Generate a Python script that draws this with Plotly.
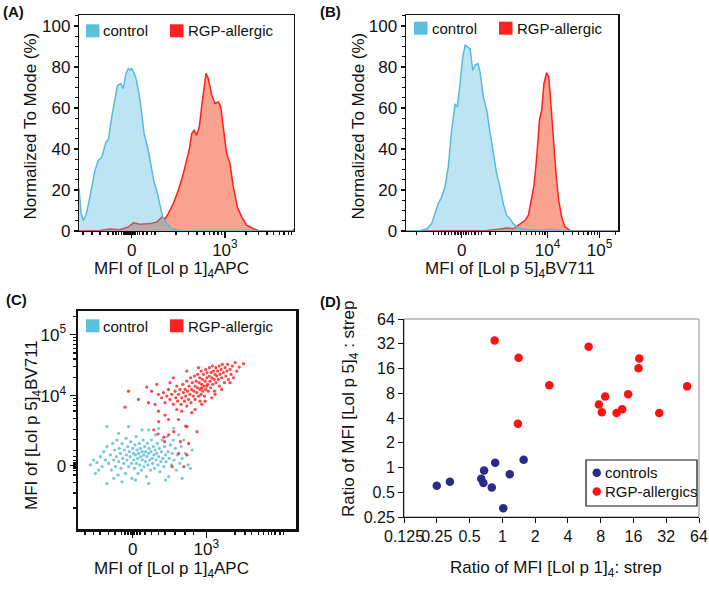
import plotly.graph_objects as go

W, H = 709, 607
FONT = "Liberation Sans, Arial, Helvetica, sans-serif"

# ---------------- Panel A: [Lol p 1]4-APC histograms (x = display channel 0-1024, y = % of mode)
a_ctrl_x = [0, 10, 21, 33, 52, 76, 92, 108, 129, 140, 156, 172, 183, 199, 211, 224, 235, 243, 251, 259,
            272, 291, 310, 330, 346, 357, 370, 383, 399, 418, 441, 473, 513, 1024]
a_ctrl_y = [20.7, 8.5, 5.2, 7.7, 16.6, 29.6, 34.5, 36, 43.5, 44.6, 55.7, 65.5, 71, 72, 69.5, 77, 79.3, 78.5, 79.3, 77.7,
            74.4, 63.8, 47.6, 39.4, 31.3, 24, 19.9, 13.4, 6.8, 3.6, 1.3, 0.3, 0, 0]
a_rgp_x = [0, 100, 148, 195, 235, 259, 291, 338, 370, 394, 410, 425, 449, 473, 497, 513, 526, 537, 548, 560,
           573, 584, 595, 605, 616, 632, 648, 664, 675, 691, 703, 719, 735, 754, 775, 799, 830, 854, 894, 1018, 1024]
a_rgp_y = [0, 0.3, 1, 0.6, 2, 4, 3.3, 3.6, 4.4, 6.8, 6, 8.5, 13.4, 19.9, 28, 34.5, 40.2, 47.6, 49.2, 46.7,
           50.8, 60.6, 70.4, 76.9, 74.4, 66.3, 62.2, 63, 60.6, 47.6, 37.8, 32.9, 21.5, 11.7, 6.8, 2.8, 1.1, 0.3, 0, 0, 1]

# ---------------- Panel B: [Lol p 5]4-BV711 histograms
b_ctrl_x = [0, 69, 101, 125, 141, 157, 173, 189, 205, 221, 238, 249, 262, 274, 286, 299, 310, 323, 335, 348,
            358, 374, 390, 406, 422, 438, 454, 470, 486, 502, 518, 534, 559, 647, 695, 727, 759, 1024]
b_ctrl_y = [0, 0.3, 1, 3.6, 8.5, 13.4, 16.6, 21.5, 31.3, 49, 62, 60.6, 72, 84.2, 90.7, 89.9, 89, 78.5, 81, 81.8,
            77.7, 65.5, 59, 48.4, 37.8, 28, 21.5, 13.4, 7.7, 6, 3.6, 2, 1, 0.3, 0.8, 0.6, 0, 0]
b_rgp_x = [0, 374, 390, 454, 486, 518, 550, 575, 591, 607, 618, 631, 644, 655, 666, 679, 689, 698, 711, 724,
           737, 751, 767, 791, 807, 1024]
b_rgp_y = [0, 0, 0.3, 1, 1.5, 1.1, 3.3, 5.2, 7.7, 16.6, 22.3, 36, 54, 59, 72, 77.2, 75.2, 63.8, 44.3, 28,
           15, 6.8, 2, 0.3, 0, 0]

# ---------------- Panel C: dot plot (display channels)
c_ctrl_x = [58, 74, 89, 105, 113, 121, 129, 136, 136, 144, 152, 157, 163, 168, 172, 176, 180, 183, 188, 191,
            194, 199, 202, 207, 210, 215, 218, 223, 226, 227, 230, 234, 238, 241, 245, 248, 251, 254, 257, 260,
            262, 265, 268, 270, 273, 274, 277, 281, 282, 285, 288, 290, 293, 295, 298, 301, 302, 306, 309, 310,
            313, 317, 318, 321, 324, 326, 329, 332, 334, 337, 340, 343, 345, 348, 351, 354, 356, 359, 362, 364,
            367, 370, 373, 376, 379, 382, 385, 389, 392, 395, 398, 403, 406, 411, 414, 418, 423, 426, 429, 434,
            439, 442, 447, 451, 457, 462, 467, 473, 478, 484, 489, 497, 504, 517, 528, 536, 238, 136, 332, 379,
            207, 270, 332, 411, 191, 97, 82, 168, 489, 301, 450]
c_ctrl_y = [302, 325, 313, 341, 294, 364, 325, 388, 215, 309, 349, 278, 403, 325, 372, 294, 341, 419, 255, 317,
            380, 356, 286, 403, 333, 309, 372, 262, 427, 349, 325, 388, 294, 364, 341, 411, 309, 239, 380, 356,
            325, 286, 396, 349, 435, 309, 372, 333, 262, 356, 403, 302, 380, 341, 278, 364, 325, 419, 349, 294,
            388, 317, 364, 247, 341, 403, 302, 356, 380, 325, 278, 364, 419, 333, 309, 388, 349, 286, 372, 443,
            325, 356, 403, 302, 341, 380, 270, 317, 364, 419, 333, 294, 388, 349, 317, 435, 364, 247, 333, 396,
            302, 356, 419, 325, 380, 278, 349, 443, 309, 388, 333, 419, 356, 302, 286, 372, 482, 482, 466, 474,
            223, 231, 215, 231, 450, 278, 262, 239, 239, 466, 474]
c_rgp_x = [393, 401, 409, 417, 425, 432, 440, 448, 456, 459, 464, 468, 472, 479, 484, 487, 492, 495, 500, 503,
           506, 511, 511, 515, 519, 522, 526, 529, 531, 534, 537, 542, 544, 547, 550, 550, 555, 558, 561, 562,
           566, 569, 572, 573, 578, 578, 581, 584, 586, 589, 592, 594, 597, 600, 600, 605, 606, 609, 612, 616,
           617, 620, 623, 625, 628, 631, 633, 636, 639, 641, 644, 647, 648, 652, 656, 659, 663, 664, 667, 672,
           675, 678, 683, 688, 691, 694, 699, 703, 706, 714, 719, 725, 730, 738, 746, 757, 777,
           237, 221, 284, 323, 346, 362, 370, 331, 378, 409, 425, 472, 506, 448, 714, 487, 550, 581, 675, 628,
           566, 511, 464, 378, 432, 534, 597, 644, 573, 581, 605,
           379, 356, 376, 403, 426, 450, 512, 559, 520, 481, 407, 512, 442, 497, 473]
c_rgp_y = [617, 641, 594, 625, 656, 609, 633, 586, 648, 617, 672, 601, 633, 656, 586, 617, 680, 641, 601, 656,
           625, 695, 578, 648, 609, 672, 633, 711, 594, 656, 688, 625, 648, 719, 672, 609, 695, 641, 664, 727,
           625, 688, 711, 656, 742, 633, 680, 703, 648, 727, 672, 625, 695, 750, 656, 711, 735, 680, 648, 719,
           758, 695, 664, 735, 711, 766, 680, 742, 703, 648, 727, 758, 688, 719, 742, 703, 766, 672, 727, 750,
           711, 774, 735, 688, 758, 719, 742, 774, 703, 750, 727, 766, 711, 782, 742, 761, 777,
           648, 573, 609, 667, 648, 586, 680, 594, 554, 536, 515, 515, 484, 711, 688, 554, 562, 586, 656, 617,
           758, 742, 562, 633, 688, 547, 601, 633, 601, 664, 672,
           505, 466, 447, 432, 443, 458, 482, 458, 403, 411, 411, 349, 294, 294, 356]

# ---------------- Panel D: per-donor ratios
d_ctrl_p1 = [0.25, 0.33, 0.64, 0.68, 0.67, 0.86, 0.80, 1.02, 1.17, 1.57]
d_ctrl_p5 = [0.60, 0.67, 0.73, 0.92, 0.65, 1.14, 0.57, 0.32, 0.83, 1.24]
d_rgp_p1 = [0.85, 1.41, 1.39, 2.7, 6.2, 7.7, 8.2, 8.8, 11.2, 12.6, 14.3, 17.8, 18.1, 27.6, 49.8]
d_rgp_p5 = [35, 21.6, 3.4, 10.0, 29.5, 5.85, 4.7, 7.3, 4.6, 5.1, 7.8, 16.1, 21.2, 4.6, 9.7]

# tick definitions
a_xticks, a_xlabels = [251, 695], ["0", "10<sup>3</sup>"]
b_xticks, b_xlabels = [270, 683, 934], ["0", "10<sup>4</sup>", "10<sup>5</sup>"]
c_xticks, c_xlabels = [257, 603], ["0", "10<sup>3</sup>"]
c_yticks, c_ylabels = [299, 626, 913], ["0", "10<sup>4</sup>", "10<sup>5</sup>"]
pct_ticks = [0, 20, 40, 60, 80, 100]
d_xticks = [0.125, 0.25, 0.5, 1, 2, 4, 8, 16, 32, 64]
d_xlabels = ["0.125", "0.25", "0.5", "1", "2", "4", "8", "16", "32", "64"]
d_yticks = [0.25, 0.5, 1, 2, 4, 8, 16, 32, 64]
d_ylabels = ["0.25", "0.5", "1", "2", "4", "8", "16", "32", "64"]

a_minor = [19, 62, 100, 138, 162, 176, 190, 203, 214, 224, 233, 240, 246, 257, 263, 270, 278, 290, 305, 324,
           345, 362, 462, 521, 562, 595, 621, 643, 662, 680, 795, 854, 895, 928, 954, 976, 996, 1013]
b_minor = [53, 133, 157, 173, 189, 205, 222, 237, 252, 262, 280, 290, 302, 318, 334, 350, 366, 406, 432, 508,
           552, 583, 607, 627, 644, 659, 671, 759, 803, 834, 858, 878, 895, 910, 922, 1010]
c_xminor = [33, 72, 103, 142, 174, 205, 221, 235, 249, 263, 277, 291, 315, 346, 377, 409, 456, 503, 542,
            737, 784, 816, 847, 870, 894, 910, 925, 949, 964]
c_yminor = [100, 170, 220, 255, 275, 285, 292, 306, 313, 323, 340, 370, 420, 470, 520, 555, 580, 600, 615,
            712, 763, 799, 827, 849, 868, 885, 900, 1000]

BLUE_LINE = "#58bbdb"
BLUE_FILL = "rgba(80,185,220,0.38)"
RED_LINE = "#ff1f1f"
RED_FILL = "#f9a28d"
LEG_BLUE = "#5bc0de"
LEG_RED = "#ff2020"
D_BLUE = "#2a2a8c"
D_RED = "#ff1111"

fig = go.Figure()

# Panel A
fig.add_trace(go.Scatter(x=a_rgp_x, y=a_rgp_y, mode="lines", fill="tozeroy", fillcolor=RED_FILL,
                         line=dict(color=RED_LINE, width=1.5), xaxis="x", yaxis="y", showlegend=False))
fig.add_trace(go.Scatter(x=a_ctrl_x, y=a_ctrl_y, mode="lines", fill="tozeroy", fillcolor=BLUE_FILL,
                         line=dict(color=BLUE_LINE, width=1.5), xaxis="x", yaxis="y", showlegend=False))
# Panel B
fig.add_trace(go.Scatter(x=b_rgp_x, y=b_rgp_y, mode="lines", fill="tozeroy", fillcolor=RED_FILL,
                         line=dict(color=RED_LINE, width=1.5), xaxis="x2", yaxis="y2", showlegend=False))
fig.add_trace(go.Scatter(x=b_ctrl_x, y=b_ctrl_y, mode="lines", fill="tozeroy", fillcolor=BLUE_FILL,
                         line=dict(color=BLUE_LINE, width=1.5), xaxis="x2", yaxis="y2", showlegend=False))
# Panel C
fig.add_trace(go.Scatter(x=c_ctrl_x, y=c_ctrl_y, mode="markers",
                         marker=dict(color="#48b4d6", size=3.2, opacity=0.75, line=dict(width=0)),
                         xaxis="x3", yaxis="y3", showlegend=False))
fig.add_trace(go.Scatter(x=c_rgp_x, y=c_rgp_y, mode="markers",
                         marker=dict(color="#ff1a1a", size=3.2, opacity=0.8, line=dict(width=0)),
                         xaxis="x3", yaxis="y3", showlegend=False))
# Panel D
fig.add_trace(go.Scatter(x=d_ctrl_p1, y=d_ctrl_p5, mode="markers",
                         marker=dict(color=D_BLUE, size=8.5, line=dict(width=0)),
                         xaxis="x4", yaxis="y4", showlegend=False))
fig.add_trace(go.Scatter(x=d_rgp_p1, y=d_rgp_p5, mode="markers",
                         marker=dict(color=D_RED, size=8.5, line=dict(width=0)),
                         xaxis="x4", yaxis="y4", showlegend=False))


def fx(px):
    return px / W


def fy(py):
    return 1 - py / H


tickfont = dict(family=FONT, size=17, color="#111")
common = dict(showgrid=False, zeroline=False, showline=True, linecolor="#111", ticks="outside",
              tickcolor="#111", tickfont=tickfont, fixedrange=True, automargin=False, tickangle=0)
dfont = dict(family=FONT, size=16, color="#111")

layout = dict(
    width=W, height=H, margin=dict(l=0, r=0, t=0, b=0, pad=0, autoexpand=False),
    template="none",
    paper_bgcolor="white", plot_bgcolor="white", showlegend=False,
    font=dict(family=FONT, color="#111"),
    xaxis=dict(domain=[fx(79), fx(294)], range=[0, 1024], anchor="y", mirror=True, linewidth=1.2,
               tickmode="array", tickvals=a_xticks, ticktext=a_xlabels, ticklen=6, tickwidth=1.2,
               ticklabelstandoff=-3,
               minor=dict(tickmode="array", tickvals=a_minor, ticklen=3, ticks="outside", tickcolor="#111"),
               **common),
    yaxis=dict(domain=[fy(231), fy(15)], range=[0, 105.4], anchor="x", mirror=True, linewidth=1.2,
               tickmode="array", tickvals=pct_ticks, ticklen=4, tickwidth=1.2,
               minor=dict(dtick=5, tick0=0, ticklen=2.5, ticks="outside", tickcolor="#111"),
               **common),
    xaxis2=dict(domain=[fx(405.7), fx(618.3)], range=[0, 1024], anchor="y2", mirror=True, linewidth=1.2,
                tickmode="array", tickvals=b_xticks, ticktext=b_xlabels, ticklen=6, tickwidth=1.2,
                ticklabelstandoff=-3,
                minor=dict(tickmode="array", tickvals=b_minor, ticklen=3, ticks="outside", tickcolor="#111"),
                **common),
    yaxis2=dict(domain=[fy(231), fy(15)], range=[0, 105.4], anchor="x2", mirror=True, linewidth=1.2,
                tickmode="array", tickvals=pct_ticks, ticklen=4, tickwidth=1.2,
                minor=dict(dtick=5, tick0=0, ticklen=2.5, ticks="outside", tickcolor="#111"),
                **common),
    xaxis3=dict(domain=[fx(78), fx(296)], range=[0, 1024], anchor="y3", mirror=True, linewidth=2.5,
                tickmode="array", tickvals=c_xticks, ticktext=c_xlabels, ticklen=6, tickwidth=1.2,
                ticklabelstandoff=-3,
                minor=dict(tickmode="array", tickvals=c_xminor, ticklen=3, ticks="outside", tickcolor="#111"),
                **common),
    yaxis3=dict(domain=[fy(529.3), fy(311)], range=[0, 1024], anchor="x3", mirror=True, linewidth=2.5,
                tickmode="array", tickvals=c_yticks, ticktext=c_ylabels, ticklen=6, tickwidth=1.2,
                minor=dict(tickmode="array", tickvals=c_yminor, ticklen=3, ticks="outside", tickcolor="#111"),
                **common),
    xaxis4=dict(domain=[fx(404), fx(699)], type="log", range=[-0.90309, 1.80618], anchor="y4",
                linewidth=1, tickmode="array", tickvals=d_xticks, ticktext=d_xlabels, ticklen=5,
                **{**common, "tickfont": dfont}),
    yaxis4=dict(domain=[fy(517), fy(319)], type="log", range=[-0.60206, 1.80618], anchor="x4",
                linewidth=1, tickmode="array", tickvals=d_yticks, ticktext=d_ylabels, ticklen=5,
                **{**common, "tickfont": dfont}),
)

shapes = []
annotations = []


def text(x, y, s, size=17, angle=0, xanchor="center", bold=False):
    annotations.append(dict(xref="paper", yref="paper", x=fx(x), y=fy(y), text=(f"<b>{s}</b>" if bold else s),
                            showarrow=False, textangle=angle, xanchor=xanchor, yanchor="middle",
                            font=dict(family=FONT, size=size, color="#111")))


def square(x0, x1, y0, y1, color):
    shapes.append(dict(type="rect", xref="paper", yref="paper", x0=fx(x0), x1=fx(x1), y0=fy(y1), y1=fy(y0),
                       fillcolor=color, line=dict(width=0)))


# panel letters
text(13, 12, "(A)", size=15, bold=True)
text(330.5, 12, "(B)", size=15, bold=True)
text(16, 299, "(C)", size=15, bold=True)
text(330.5, 302, "(D)", size=15, bold=True)

# axis titles
text(29.5, 126, "Normalized To Mode (%)", angle=-90)
text(171.7, 270, "MFI of [Lol p 1]<sub>4</sub>APC")
text(357.5, 126, "Normalized To Mode (%)", angle=-90)
text(510, 270, "MFI of [Lol p 5]<sub>4</sub>BV711")
text(33, 425, "MFI of [Lol p 5]<sub>4</sub>BV711", angle=-90)
text(171.5, 570, "MFI of [Lol p 1]<sub>4</sub>APC")
text(350, 409, "Ratio of MFI [Lol p 5]<sub>4</sub> : strep", angle=-90)
text(555.5, 569, "Ratio of MFI [Lol p 1]<sub>4</sub>: strep")

# in-plot legends for A, B, C
for (bx0, by0, tx1, rx0, tx2, ty) in [(86, 24.3, 101, 170, 185.5, 30.5),
                                      (414, 21.7, 430, 499, 515, 28.5),
                                      (86, 319.3, 101, 170, 185.5, 326)]:
    square(bx0, bx0 + 13.5, by0, by0 + 13, LEG_BLUE)
    square(rx0, rx0 + 13.5, by0, by0 + 13, LEG_RED)
    text(tx1, ty, "control", size=15, xanchor="left")
    text(tx2, ty, "RGP-allergic", size=15, xanchor="left")

# panel D frame (top/right) and legend
shapes.append(dict(type="rect", xref="x4 domain", yref="y4 domain", x0=0, x1=1, y0=0, y1=1,
                   line=dict(color="#8a8a8a", width=1), layer="below"))
shapes.append(dict(type="rect", xref="paper", yref="paper", x0=fx(586), x1=fx(697), y0=fy(506), y1=fy(460),
                   line=dict(color="#111", width=1.2), fillcolor="white"))
for cy, col in [(472.7, D_BLUE), (491.5, D_RED)]:
    shapes.append(dict(type="circle", xref="paper", yref="paper", x0=fx(592.5), x1=fx(601), y0=fy(cy + 4.25),
                       y1=fy(cy - 4.25), fillcolor=col, line=dict(width=0)))
text(603, 472.7, "controls", size=15, xanchor="left")
text(603, 491.5, "RGP-allergics", size=15, xanchor="left")

layout["shapes"] = shapes
layout["annotations"] = annotations
fig.update_layout(**layout)

fig.write_html("out.html", config={"displayModeBar": False, "staticPlot": True},
               post_script="document.body.style.margin='0';document.body.style.padding='0';"
                           "document.body.style.overflow='hidden';")
